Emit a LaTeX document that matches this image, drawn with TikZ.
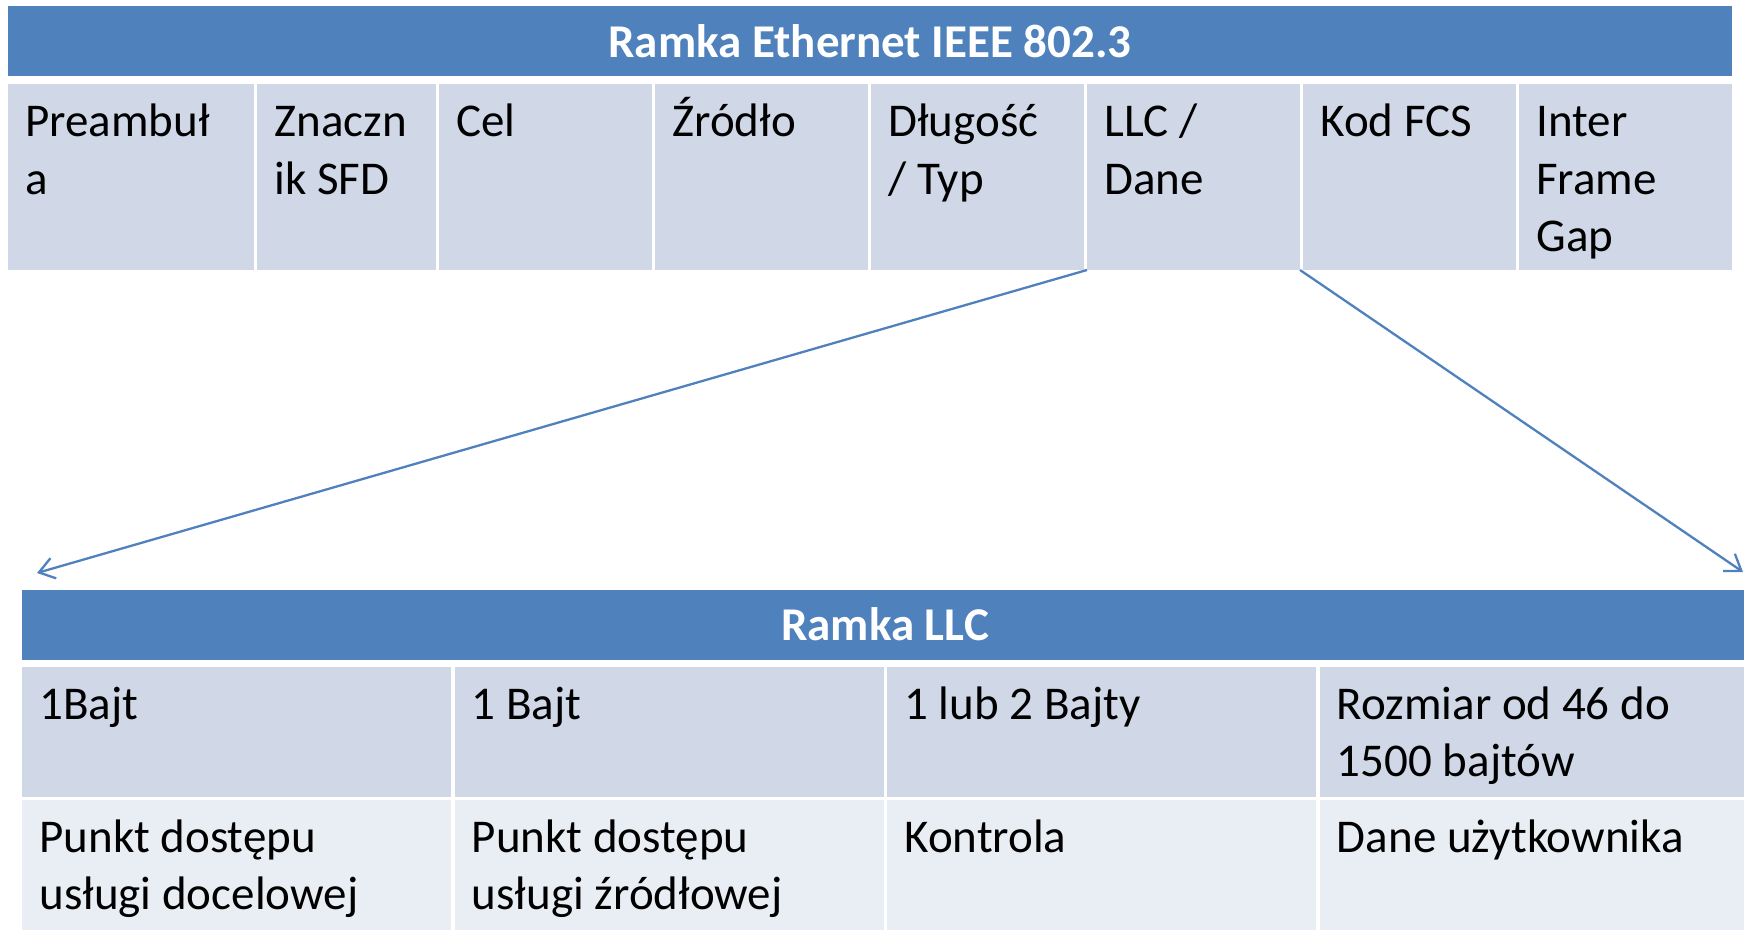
\documentclass[tikz,border=0pt]{standalone}
\usepackage{fontspec}
\setmainfont{Carlito}
\usetikzlibrary{positioning,arrows.meta}
\definecolor{hdrblue}{HTML}{4F81BD}
\definecolor{rowdark}{HTML}{D0D8E8}
\definecolor{rowlight}{HTML}{E9EDF4}
\newcommand{\cellfont}{\fontsize{23.5}{28.6}\selectfont}
\tikzset{
  hdr/.style  = {rectangle, fill=hdrblue, text=white, inner sep=0pt,
                 outer sep=0pt, minimum height=35pt, anchor=north west,
                 font=\cellfont\bfseries},
  txt/.style  = {anchor=north west, inner xsep=8.5pt, inner ysep=6pt,
                 text width=200pt, align=flush left, font=\cellfont,
                 execute at begin node={\spaceskip=0pt\xspaceskip=0pt\strut}},
  fld/.style  = {rectangle, fill=rowdark, inner sep=0pt, outer sep=0pt,
                 minimum height=92.75pt, minimum width=106.5pt},
  llcf/.style = {rectangle, fill=rowdark, inner sep=0pt, outer sep=0pt,
                 minimum height=65pt, minimum width=214.5pt},
  llcd/.style = {llcf, fill=rowlight},
  arr/.style  = {-{Straight Barb[length=7.5pt,width=10.5pt]}, draw=hdrblue,
                 line width=1.15pt}
}

\begin{document}
\begin{tikzpicture}[x=0.5pt,y=-0.5pt]
  \useasboundingbox (0,0) rectangle (1744,930);
  \clip (0,0) rectangle (1744,930);

  % Ramka Ethernet
  \node[hdr, minimum width=862pt] (eth) at (8,6) {Ramka Ethernet IEEE 802.3};
  \node[fld, minimum width=123pt, below=4.25pt of eth.south west, anchor=north west,
        label={[txt]north west:{Preambuł\\a}}] (pre) {};
  \node[fld, minimum width=89.5pt, right=1.5pt of pre,
        label={[txt]north west:{Znaczn\\ik SFD}}] (sfd) {};
  \node[fld, right=1.5pt of sfd, label={[txt]north west:{Cel}}] (dst) {};
  \node[fld, right=1.5pt of dst, label={[txt]north west:{Źródło}}] (src) {};
  \node[fld, right=1.5pt of src, label={[txt]north west:{Długość\\/ Typ}}] (len) {};
  \node[fld, right=1.5pt of len, label={[txt]north west:{LLC /\\Dane}}] (llc) {};
  \node[fld, right=1.5pt of llc, label={[txt]north west:{Kod FCS}}] (fcs) {};
  \node[fld, right=1.5pt of fcs, label={[txt]north west:{Inter\\Frame\\Gap}}] (ifg) {};

  % Ramka LLC
  \node[hdr, minimum width=863pt] (llchdr) at (22,589.5) {Ramka LLC};
  \node[llcf, below=3.75pt of llchdr.south west, anchor=north west,
        label={[txt]north west:{1Bajt}}] (dsapf) {};
  \node[llcf, right=1.75pt of dsapf, label={[txt]north west:{1 Bajt}}] (ssapf) {};
  \node[llcf, right=1.75pt of ssapf, label={[txt]north west:{1 lub 2 Bajty}}] (ctrlf) {};
  \node[llcf, right=1.75pt of ctrlf,
        label={[txt]north west:{Rozmiar od 46 do\\1500 bajtów}}] (dataf) {};
  \node[llcd, below=1.5pt of dsapf.south west, anchor=north west,
        label={[txt]north west:{Punkt dostępu\\usługi docelowej}}] (dsapd) {};
  \node[llcd, right=1.75pt of dsapd,
        label={[txt]north west:{Punkt dostępu\\usługi źródłowej}}] (ssapd) {};
  \node[llcd, right=1.75pt of ssapd, label={[txt]north west:{Kontrola}}] (ctrld) {};
  \node[llcd, right=1.75pt of ctrld, label={[txt]north west:{Dane użytkownika}}] (datad) {};

  \coordinate (tipl) at (37,573);
  \coordinate (tipr) at (1743,572);
  \draw[arr] (llc.south west) -- (tipl);
  \draw[arr] (llc.south east) -- (tipr);
\end{tikzpicture}
\end{document}
